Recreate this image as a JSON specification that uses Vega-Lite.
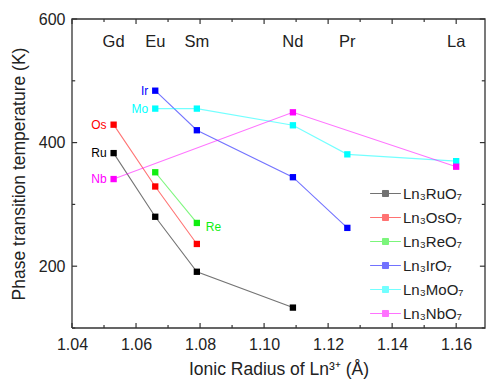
{
  "$schema": "https://vega.github.io/schema/vega-lite/v6.json",
  "width": 413,
  "height": 309,
  "autosize": {"type": "none"},
  "padding": {"left": 72, "top": 19, "right": 1, "bottom": 54},
  "background": "white",
  "config": {
    "font": "Liberation Sans",
    "view": {"stroke": null},
    "axis": {
      "grid": false,
      "domain": false,
      "ticks": false,
      "labelFlush": false,
      "labelFont": "Liberation Sans",
      "labelFontSize": 16,
      "labelColor": "#222",
      "titleFont": "Liberation Sans",
      "titleFontSize": 17.5,
      "titleFontWeight": "normal",
      "titleColor": "#222"
    },
    "legend": {
      "labelFont": "Liberation Sans",
      "labelFontSize": 15,
      "labelColor": "#222"
    }
  },
  "datasets": {
    "frame": [
      {"fx": 1.04, "fy": 100, "o": 0},
      {"fx": 1.04, "fy": 600, "o": 1},
      {"fx": 1.169, "fy": 600, "o": 2},
      {"fx": 1.169, "fy": 100, "o": 3},
      {"fx": 1.04, "fy": 100, "o": 4}
    ],
    "xticks": [
      {"v": 1.04}, {"v": 1.05}, {"v": 1.06}, {"v": 1.07}, {"v": 1.08}, {"v": 1.09}, {"v": 1.1},
      {"v": 1.11}, {"v": 1.12}, {"v": 1.13}, {"v": 1.14}, {"v": 1.15}, {"v": 1.16}
    ],
    "yticks": [
      {"v": 100}, {"v": 200}, {"v": 300}, {"v": 400}, {"v": 500}, {"v": 600}
    ],
    "lanthanides": [
      {"ln": "Gd", "r": 1.053},
      {"ln": "Eu", "r": 1.066},
      {"ln": "Sm", "r": 1.079},
      {"ln": "Nd", "r": 1.109},
      {"ln": "Pr", "r": 1.126},
      {"ln": "La", "r": 1.16}
    ]
  },
  "data": {
    "values": [
      {"B": "Ru", "r": 1.053, "T": 383},
      {"B": "Ru", "r": 1.066, "T": 280},
      {"B": "Ru", "r": 1.079, "T": 191},
      {"B": "Ru", "r": 1.109, "T": 133},
      {"B": "Os", "r": 1.053, "T": 429},
      {"B": "Os", "r": 1.066, "T": 329},
      {"B": "Os", "r": 1.079, "T": 236},
      {"B": "Re", "r": 1.066, "T": 352},
      {"B": "Re", "r": 1.079, "T": 270},
      {"B": "Ir", "r": 1.066, "T": 484},
      {"B": "Ir", "r": 1.079, "T": 420},
      {"B": "Ir", "r": 1.109, "T": 344},
      {"B": "Ir", "r": 1.126, "T": 262},
      {"B": "Mo", "r": 1.066, "T": 455},
      {"B": "Mo", "r": 1.079, "T": 455},
      {"B": "Mo", "r": 1.109, "T": 428},
      {"B": "Mo", "r": 1.126, "T": 381},
      {"B": "Mo", "r": 1.16, "T": 370},
      {"B": "Nb", "r": 1.053, "T": 341},
      {"B": "Nb", "r": 1.109, "T": 449},
      {"B": "Nb", "r": 1.16, "T": 361}
    ]
  },
  "transform": [
    {"calculate": "'Ln₃' + datum.B + 'O₇'", "as": "compound"}
  ],
  "layer": [
    {
      "data": {"name": "frame"},
      "mark": {"type": "line", "color": "#333", "strokeWidth": 1.3, "opacity": 1},
      "encoding": {
        "x": {"field": "fx", "type": "quantitative"},
        "y": {"field": "fy", "type": "quantitative"},
        "order": {"field": "o", "type": "quantitative"}
      }
    },
    {
      "data": {"name": "xticks"},
      "transform": [
        {"calculate": "[0, 1]", "as": "k"},
        {"flatten": ["k"]},
        {"calculate": "datum.k == 0 ? 100 : (round(datum.v * 100) % 2 == 0 ? 108 : 105)", "as": "ty"}
      ],
      "mark": {"type": "line", "color": "#333", "strokeWidth": 1.2, "opacity": 1},
      "encoding": {
        "x": {"field": "v", "type": "quantitative"},
        "y": {"field": "ty", "type": "quantitative"},
        "detail": {"field": "v", "type": "nominal"}
      }
    },
    {
      "data": {"name": "xticks"},
      "transform": [
        {"calculate": "[0, 1]", "as": "k"},
        {"flatten": ["k"]},
        {"calculate": "datum.k == 0 ? 600 : (round(datum.v * 100) % 2 == 0 ? 592 : 595)", "as": "ty"}
      ],
      "mark": {"type": "line", "color": "#333", "strokeWidth": 1.2, "opacity": 1},
      "encoding": {
        "x": {"field": "v", "type": "quantitative"},
        "y": {"field": "ty", "type": "quantitative"},
        "detail": {"field": "v", "type": "nominal"}
      }
    },
    {
      "data": {"name": "yticks"},
      "transform": [
        {"calculate": "[0, 1]", "as": "k"},
        {"flatten": ["k"]},
        {"calculate": "datum.k == 0 ? 1.04 : (datum.v % 200 == 0 ? 1.0416 : 1.041)", "as": "tx"}
      ],
      "mark": {"type": "line", "color": "#333", "strokeWidth": 1.2, "opacity": 1},
      "encoding": {
        "x": {"field": "tx", "type": "quantitative"},
        "y": {"field": "v", "type": "quantitative"},
        "detail": {"field": "v", "type": "nominal"}
      }
    },
    {
      "data": {"name": "yticks"},
      "transform": [
        {"calculate": "[0, 1]", "as": "k"},
        {"flatten": ["k"]},
        {"calculate": "datum.k == 0 ? 1.169 : (datum.v % 200 == 0 ? 1.1674 : 1.168)", "as": "tx"}
      ],
      "mark": {"type": "line", "color": "#333", "strokeWidth": 1.2, "opacity": 1},
      "encoding": {
        "x": {"field": "tx", "type": "quantitative"},
        "y": {"field": "v", "type": "quantitative"},
        "detail": {"field": "v", "type": "nominal"}
      }
    },
    {
      "mark": {"type": "line", "strokeWidth": 1.1, "opacity": 0.55},
      "encoding": {
        "x": {
          "field": "r", "type": "quantitative",
          "scale": {"domain": [1.04, 1.169], "nice": false, "zero": false},
          "axis": {
            "orient": "bottom",
            "title": "Ionic Radius of Ln³⁺ (Å)",
            "values": [1.04, 1.06, 1.08, 1.1, 1.12, 1.14, 1.16],
            "format": ".2f",
            "labelPadding": 8,
            "titlePadding": 8
          }
        },
        "y": {
          "field": "T", "type": "quantitative",
          "scale": {"domain": [100, 600], "nice": false, "zero": false},
          "axis": {
            "orient": "left",
            "title": "Phase transition temperature (K)",
            "values": [200, 400, 600],
            "labelPadding": 7,
            "titlePadding": 10
          }
        },
        "color": {
          "field": "compound", "type": "nominal",
          "scale": {
            "domain": ["Ln₃RuO₇", "Ln₃OsO₇", "Ln₃ReO₇", "Ln₃IrO₇", "Ln₃MoO₇", "Ln₃NbO₇"],
            "range": ["#000000", "#ff0000", "#11ee11", "#0000ff", "#00ffff", "#ff00ff"]
          },
          "legend": {
            "title": null,
            "orient": "none",
            "legendX": 306,
            "legendY": 167,
            "padding": 0,
            "symbolType": "M-2.2,0H-0.43M0.43,0H2.2M-0.43,-0.43H0.43V0.43H-0.43Z",
            "symbolSize": 196,
            "symbolStrokeWidth": 1,
            "labelOffset": 10,
            "rowPadding": 8,
            "encode": {
              "symbols": {
                "update": {
                  "fill": {"scale": "color", "field": "value"},
                  "stroke": {"scale": "color", "field": "value"},
                  "strokeOpacity": {"value": 0.5},
                  "fillOpacity": {"value": 1}
                }
              }
            }
          }
        },
        "order": {"field": "r", "type": "quantitative"}
      }
    },
    {
      "mark": {"type": "point", "shape": "square", "filled": true, "size": 40, "opacity": 1},
      "encoding": {
        "x": {"field": "r", "type": "quantitative"},
        "y": {"field": "T", "type": "quantitative"},
        "color": {"field": "compound", "type": "nominal"}
      }
    },
    {
      "transform": [
        {"joinaggregate": [{"op": "min", "field": "r", "as": "rmin"}], "groupby": ["B"]},
        {"filter": "datum.B != 'Re' && datum.r == datum.rmin"}
      ],
      "mark": {"type": "text", "align": "right", "baseline": "middle", "dx": -7, "fontSize": 12, "font": "Liberation Sans"},
      "encoding": {
        "x": {"field": "r", "type": "quantitative"},
        "y": {"field": "T", "type": "quantitative"},
        "text": {"field": "B"},
        "color": {"field": "compound", "type": "nominal", "legend": null}
      }
    },
    {
      "transform": [
        {"joinaggregate": [{"op": "max", "field": "r", "as": "rmax"}], "groupby": ["B"]},
        {"filter": "datum.B == 'Re' && datum.r == datum.rmax"}
      ],
      "mark": {"type": "text", "align": "left", "baseline": "middle", "dx": 9, "dy": 4, "fontSize": 12, "font": "Liberation Sans"},
      "encoding": {
        "x": {"field": "r", "type": "quantitative"},
        "y": {"field": "T", "type": "quantitative"},
        "text": {"field": "B"},
        "color": {"field": "compound", "type": "nominal", "legend": null}
      }
    },
    {
      "data": {"name": "lanthanides"},
      "mark": {"type": "text", "align": "center", "baseline": "middle", "fontSize": 16.5, "color": "#222", "font": "Liberation Sans"},
      "encoding": {
        "x": {"field": "r", "type": "quantitative"},
        "y": {"datum": 562, "type": "quantitative"},
        "text": {"field": "ln"}
      }
    }
  ]
}
